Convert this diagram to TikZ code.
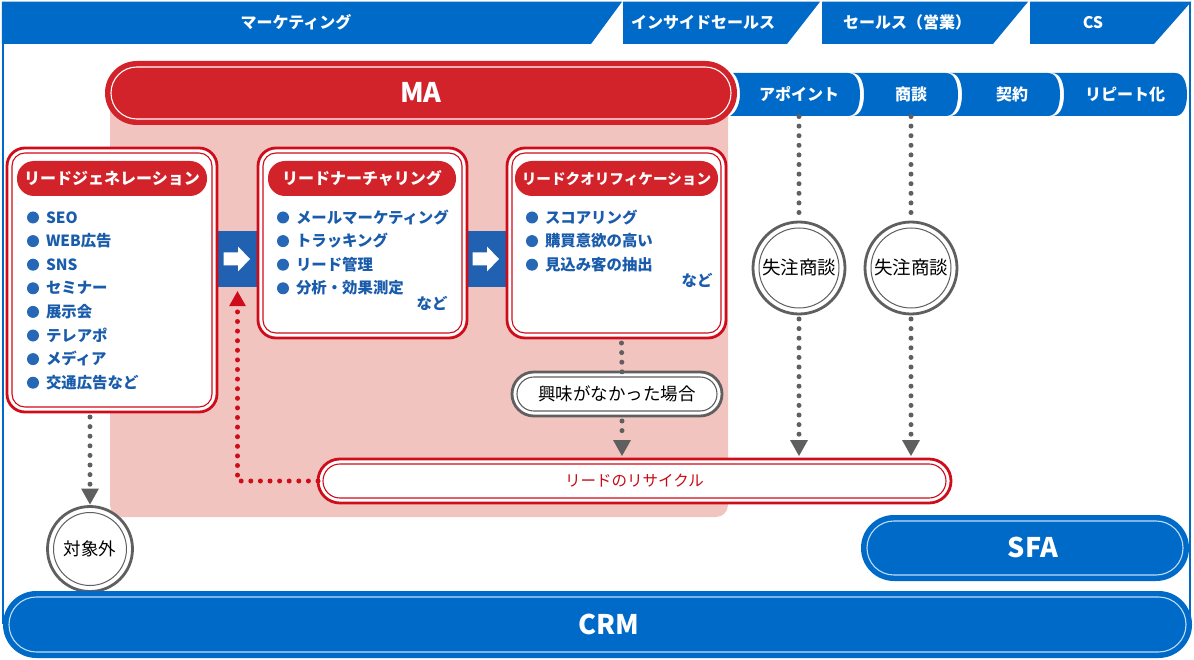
\documentclass[tikz,border=0pt]{standalone}
\usepackage{fontspec}
\setmainfont{Noto Sans CJK JP}
\usetikzlibrary{arrows.meta}
\definecolor{mablue}{RGB}{0,106,200}
\definecolor{sqblue}{RGB}{33,97,177}
\definecolor{itemblue}{RGB}{26,92,172}
\definecolor{bulblue}{RGB}{38,104,182}
\definecolor{boxred}{RGB}{206,12,26}
\definecolor{mared}{RGB}{210,35,42}
\definecolor{pinkbg}{RGB}{242,196,192}
\definecolor{recred}{RGB}{200,10,20}
\definecolor{dgray}{RGB}{95,95,95}
\definecolor{lightline}{RGB}{190,222,246}
\newcommand\fsz[1]{\fontsize{#1pt}{#1pt}\selectfont}
\tikzset{
  base/.style={inner sep=0pt, outer sep=0pt},
  th/.code={\pgfmathsetmacro\fsH{0.8*#1}\pgfmathsetmacro\fsD{0.06*#1}%
     \edef\tmpa{\noexpand\tikzset{text height=\fsH pt, text depth=\fsD pt}}\tmpa},
  innerline/.style 2 args={path picture={\draw[#1, line width=1.1pt, rounded corners=#2]
      ([shift={(5pt,5pt)}]path picture bounding box.south west) rectangle
      ([shift={(-5pt,-5pt)}]path picture bounding box.north east);}},
  bandtext/.style={base, text=white, font=\fsz{16}\bfseries, th=16},
  tabtext/.style={base, text=white, font=\fsz{16}\bfseries, th=16, minimum height=43pt},
  bigpill/.style={base, text=white, font=\fsz{27}\bfseries, th=27, line width=2pt},
  mapill/.style={bigpill, fill=mared, draw=mared, rounded corners=30.9pt, innerline={white}{25.9pt}},
  bluepill/.style={bigpill, fill=mablue, draw=mablue, rounded corners=#1, innerline={lightline}{#1-5pt}},
  redbox/.style={base, draw=boxred, fill=white, line width=2.8pt, rounded corners=18pt, innerline={boxred}{13pt}},
  hdr/.style={base, fill=mared, rounded corners=17pt, minimum height=35pt, text=white, font=\fsz{16}\bfseries, th=16},
  item/.style={base, anchor=west, text=itemblue, font=\fsz{15.4}\bfseries, th=15.4},
  nado/.style={base, text=itemblue, font=\fsz{15.4}\bfseries, th=15.4},
  bul/.style={circle, fill=bulblue, minimum size=12pt, inner sep=0pt},
  sq/.style={fill=sqblue, minimum width=40pt, minimum height=56pt, inner sep=0pt},
  lostc/.style={base, circle, draw=dgray, line width=2.8pt, fill=white, minimum size=#1,
      path picture={\draw[dgray, line width=1pt] (path picture bounding box.center) circle[radius=#1/2-6pt];}},
  grpill/.style={base, draw=dgray, fill=white, line width=2.8pt, rounded corners=21.9pt, innerline={dgray}{16.9pt},
      minimum width=210pt, minimum height=44pt, font=\fsz{17.5}, th=17.5},
  redpill/.style={base, draw=boxred, fill=white, line width=2.8pt, rounded corners=21.9pt, innerline={boxred}{16.9pt},
      minimum width=633pt, minimum height=44pt, font=\fsz{15.5}, th=15.5, text=recred},
  gdots/.style={draw=dgray, line width=5pt, line cap=round, dash pattern=on 0pt off 9.6pt},
  rdots/.style={draw=boxred, line width=5pt, line cap=round, dash pattern=on 0pt off 9.6pt},
  gtip/.style={-{Triangle[width=18pt,length=16pt,line width=0pt]}},
  rtip/.style={-{Triangle[width=17pt,length=15pt,line width=0pt]}},
}
\begin{document}
\begin{tikzpicture}[x=1pt,y=-1pt]
\useasboundingbox (0,0) rectangle (1194,660);
% frame
\draw[mablue, line width=2.5pt] (3,2) -- (3,624);
\draw[mablue, line width=2.5pt] (1190,2) -- (1190,624);
% top bands
\fill[mablue] (1.75,1.75) -- (622,1.75) -- (591,44) -- (1.75,44) -- cycle;
\fill[mablue] (623,1.75) -- (820,1.75) -- (787,44) -- (623,44) -- cycle;
\fill[mablue] (822,1.75) -- (1028,1.75) -- (993,44) -- (822,44) -- cycle;
\fill[mablue] (1030,1.75) -- (1191.25,1.75) -- (1154,44) -- (1030,44) -- cycle;
\node[bandtext] (mk) at (296,22.5) {マーケティング};
\node[bandtext] (is) at (703,22.5) {インサイドセールス};
\node[bandtext] (sl) at (907,22.5) {セールス（営業）};
\node[bandtext] (cs) at (1093,22.5) {CS};
% pink MA region
\fill[pinkbg, rounded corners=12pt] (110,93) -- (728,93) -- (728,517) -- (110,517) -- cycle;
\node[mapill, minimum width=630pt, minimum height=62pt] (MA) at (421,93) {MA};
% process tabs
\fill[mablue] (733,73) -- (848,73) .. controls (857,73) and (860,84) .. (860,94.5) .. controls (860,105) and (857,116) .. (848,116) -- (730,116) .. controls (737,112) and (740,102) .. (740,94.5) .. controls (740,87) and (738,77) .. (733,73) -- cycle;
\foreach \xa/\xb in {852/958, 950/1060, 1052/1187}{
  \fill[mablue] (\xa,73) -- ({\xb-12},73) .. controls ({\xb-3},73) and (\xb,84) .. (\xb,94.5) .. controls (\xb,105) and ({\xb-3},116) .. ({\xb-12},116) -- (\xa,116) .. controls ({\xa+9},116) and ({\xa+12},105) .. ({\xa+12},94.5) .. controls ({\xa+12},84) and ({\xa+9},73) .. (\xa,73) -- cycle;
}
\node[tabtext, minimum width=90pt] (apo) at (799,95) {アポイント};
\node[tabtext, minimum width=70pt] (sho) at (911,95) {商談};
\node[tabtext, minimum width=70pt] (kei) at (1012,95) {契約};
\node[tabtext, minimum width=100pt] (rep) at (1125,95) {リピート化};
% arrow squares
\node[sq] (sq1) at (237.5,259) {};
\node[sq] (sq2) at (486.5,259) {};
\foreach \s in {sq1,sq2}{
  \fill[white, shift={(\s.center)}] (-14pt,6.5pt) -- (0.5pt,6.5pt) -- (0.5pt,12.5pt) -- (12.5pt,0pt) -- (0.5pt,-12.5pt) -- (0.5pt,-6.5pt) -- (-14pt,-6.5pt) -- cycle;
}
% boxes
\node[redbox, minimum width=210pt, minimum height=264pt] (box1) at (112,280) {};
\node[redbox, minimum width=209pt, minimum height=190pt] (box2) at (362.5,243) {};
\node[redbox, minimum width=219pt, minimum height=190pt] (box3) at (616.5,243) {};
\node[hdr, minimum width=190pt] (h1) at (112,178.5) {リードジェネレーション};
\node[hdr, minimum width=188pt] (h2) at (362,178.5) {リードナーチャリング};
\node[hdr, minimum width=203pt, font=\fsz{14.6}\bfseries] (h3) at (616.5,178.5) {リードクオリフィケーション};
\foreach \txt [count=\i] in {SEO, WEB広告, SNS, セミナー, 展示会, テレアポ, メディア, 交通広告など}{
  \node[bul] (ba\i) at (33,{217.5+(\i-1)*23.6}) {};
  \node[item] (ia\i) at (46,{217.5+(\i-1)*23.6}) {\txt};
}
\foreach \txt [count=\i] in {メールマーケティング, トラッキング, リード管理, 分析・効果測定}{
  \node[bul] (bb\i) at (283,{217.5+(\i-1)*23.6}) {};
  \node[item] (ib\i) at (296,{217.5+(\i-1)*23.6}) {\txt};
}
\node[nado] (nb) at (432,304) {など};
\foreach \txt [count=\i] in {スコアリング, 購買意欲の高い, 見込み客の抽出}{
  \node[bul] (bc\i) at (532,{217.5+(\i-1)*23.6}) {};
  \node[item] (ic\i) at (545,{217.5+(\i-1)*23.6}) {\txt};
}
\node[nado] (nc) at (697,281) {など};
% circles and pills
\node[lostc=92pt, font=\fsz{18.5}, th=18.5] (lost1) at (799,268) {失注商談};
\node[lostc=92pt, font=\fsz{18.5}, th=18.5] (lost2) at (911,268) {失注商談};
\node[lostc=85pt, font=\fsz{17.5}, th=17.5] (tgt) at (90,549) {対象外};
\node[grpill] (kyomi) at (617,394) {興味がなかった場合};
\node[redpill] (recycle) at (634.5,481) {リードのリサイクル};
\node[bluepill=31.9pt, minimum width=326pt, minimum height=64pt] (sfa) at (1025,548) {\hspace*{16pt}SFA};
\node[bluepill=32.4pt, minimum width=1187pt, minimum height=65pt] (crm) at (597.5,624.5) {\hspace*{22pt}CRM};
% connectors
\draw[gdots] (apo.south -| lost1.north) -- (lost1.north);
\draw[gdots] (sho.south -| lost2.north) -- (lost2.north);
\draw[gdots, gtip, shorten >=3pt] ([yshift=-5pt]lost1.south) -- (lost1.south |- recycle.north);
\draw[gdots, gtip, shorten >=3pt] ([yshift=-5pt]lost2.south) -- (lost2.south |- recycle.north);
\draw[gdots] ([xshift=5pt,yshift=-5pt]box3.south) -- ([xshift=5pt]kyomi.north);
\draw[gdots, gtip, shorten >=3pt] ([xshift=5pt,yshift=-5pt]kyomi.south) -- ([xshift=5pt]kyomi.south |- recycle.north);
\draw[gdots, gtip, shorten >=2pt] ([yshift=-5pt]box1.south -| tgt.north) -- (tgt.north);
\draw[rdots, rtip, shorten >=4pt] (recycle.west) -| (sq1.south);
\end{tikzpicture}
\end{document}
